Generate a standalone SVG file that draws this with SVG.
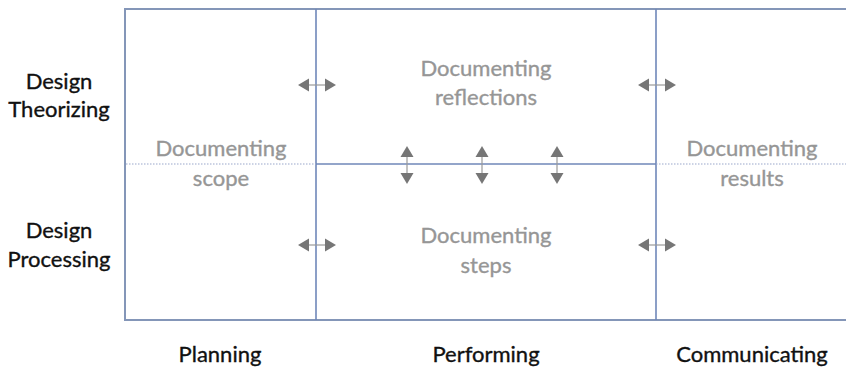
<svg xmlns="http://www.w3.org/2000/svg" width="846" height="368" viewBox="0 0 846 368">
  <style>
    .frame { fill: none; stroke: #8496b8; stroke-width: 2; }
    .grid { stroke: #6f87b9; stroke-width: 1.6; fill: none; }
    .dotted { stroke: #9aa8cc; stroke-width: 1.2; stroke-dasharray: 1.5 1.5; fill: none; }
    .cell { font-family: Lato, "Liberation Sans", sans-serif; font-size: 22px; fill: #969696; stroke: #969696; stroke-width: 0.35; text-anchor: middle; }
    .axis { font-family: Lato, "Liberation Sans", sans-serif; font-size: 22px; fill: #111; stroke: #111; stroke-width: 0.35; text-anchor: middle; }
    .arr { fill: #767676; }
    .shaft { stroke: #999; stroke-width: 1.2; }
  </style>
  <defs>
    <!-- horizontal double arrow centred on origin -->
    <g id="harrow">
      <line class="shaft" x1="-10" y1="0" x2="10" y2="0"/>
      <polygon class="arr" points="-19,0 -8,-6.5 -8,6.5"/>
      <polygon class="arr" points="19,0 8,-6.5 8,6.5"/>
    </g>
    <!-- vertical double arrow centred on origin -->
    <g id="varrow">
      <line class="shaft" x1="0" y1="-10" x2="0" y2="10"/>
      <polygon class="arr" points="0,-19 -6.5,-8 6.5,-8"/>
      <polygon class="arr" points="0,19 -6.5,8 6.5,8"/>
    </g>
  </defs>
  <rect width="846" height="368" fill="#fff"/>

  <!-- matrix frame -->
  <g id="frame">
    <polyline class="frame" points="848,9 125,9 125,320 848,320"/>
    <line class="grid" x1="316" y1="9" x2="316" y2="320"/>
    <line class="grid" x1="656" y1="9" x2="656" y2="320"/>
    <line class="grid" x1="316" y1="164" x2="656" y2="164"/>
    <line class="dotted" x1="126" y1="164" x2="316" y2="164"/>
    <line class="dotted" x1="656" y1="164" x2="846" y2="164"/>
  </g>

  <!-- row labels -->
  <g id="row-theorizing">
    <text class="axis" x="59" y="89">Design</text>
    <text class="axis" x="59" y="117">Theorizing</text>
  </g>
  <g id="row-processing">
    <text class="axis" x="59" y="238">Design</text>
    <text class="axis" x="59" y="267">Processing</text>
  </g>

  <!-- column labels -->
  <g id="col-planning"><text class="axis" x="220" y="362">Planning</text></g>
  <g id="col-performing"><text class="axis" x="486" y="362">Performing</text></g>
  <g id="col-communicating"><text class="axis" x="752" y="362">Communicating</text></g>

  <!-- cells -->
  <g id="scope">
    <text class="cell" x="221" y="156">Documenting</text>
    <text class="cell" x="221" y="186">scope</text>
  </g>
  <g id="reflections">
    <text class="cell" x="486" y="76">Documenting</text>
    <text class="cell" x="486" y="105">reflections</text>
  </g>
  <g id="steps">
    <text class="cell" x="486" y="243">Documenting</text>
    <text class="cell" x="486" y="273">steps</text>
  </g>
  <g id="results">
    <text class="cell" x="752" y="156">Documenting</text>
    <text class="cell" x="752" y="186">results</text>
  </g>

  <!-- connectors -->
  <g id="connectors">
    <use href="#harrow" x="317" y="85"/>
    <use href="#harrow" x="657" y="85"/>
    <use href="#harrow" x="317" y="245"/>
    <use href="#harrow" x="657" y="245"/>
    <use href="#varrow" x="407" y="165"/>
    <use href="#varrow" x="482" y="165"/>
    <use href="#varrow" x="557" y="165"/>
  </g>
</svg>
